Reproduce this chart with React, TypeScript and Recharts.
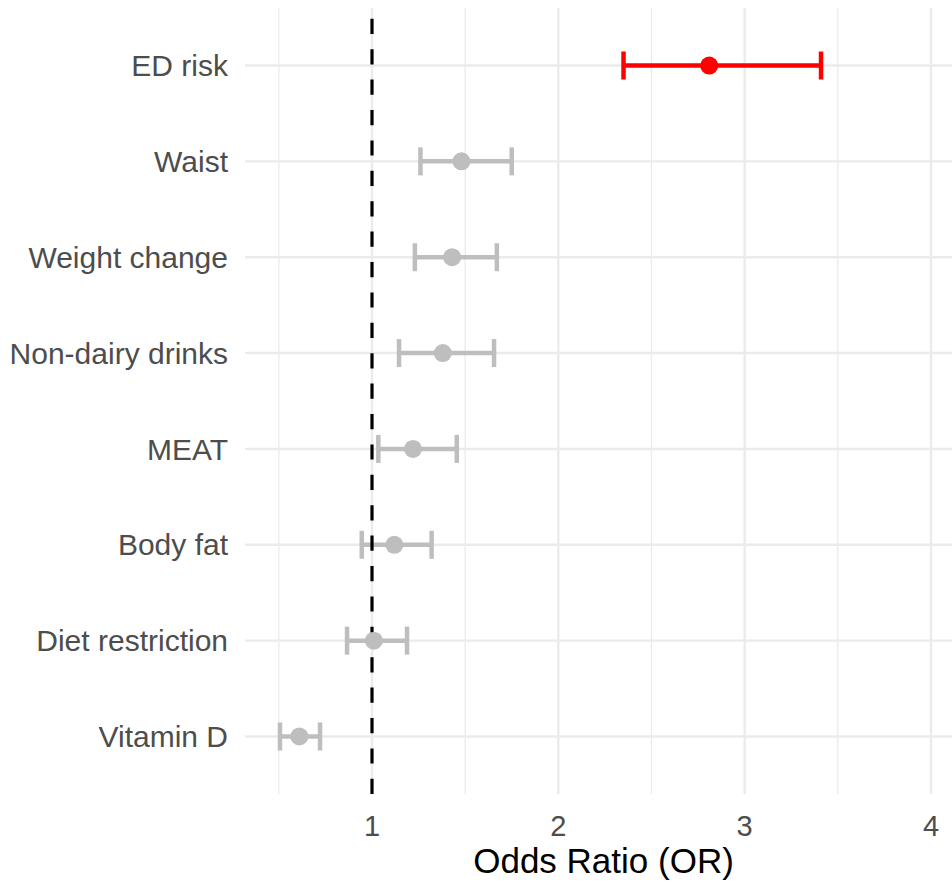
import React from 'react';
import { ScatterChart, Scatter, XAxis, YAxis, ErrorBar, ReferenceLine } from 'recharts';

const labels = ['ED risk', 'Waist', 'Weight change', 'Non-dairy drinks', 'MEAT', 'Body fat', 'Diet restriction', 'Vitamin D'];
const oddsRatio = [2.81, 1.48, 1.43, 1.38, 1.22, 1.12, 1.01, 0.61];
const lower = [2.35, 1.26, 1.23, 1.145, 1.034, 0.945, 0.866, 0.506];
const upper = [3.41, 1.75, 1.67, 1.655, 1.455, 1.32, 1.188, 0.721];
const highlighted = ['ED risk'];
const xTicks = [1, 2, 3, 4];
const minorTicks = [0.5, 1.5, 2.5, 3.5];
const refValue = 1;

const n = labels.length;
const rows = labels.map((label, i) => ({
  label,
  x: oddsRatio[i],
  y: n - 1 - i,
  err: [oddsRatio[i] - lower[i], upper[i] - oddsRatio[i]],
}));
const redRows = rows.filter((r) => highlighted.includes(r.label));
const greyRows = rows.filter((r) => !highlighted.includes(r.label));
const yTicks = rows.map((r) => r.y);
const labelFor = (v: number) => labels[n - 1 - v] ?? '';

const FONT = 'Liberation Sans, Arial, sans-serif';
const GRID = '#EBEBEB';

const dot = (color: string) => (props: any) => (
  <circle cx={props.cx} cy={props.cy} r={9} fill={color} />
);

export default function App() {
  return (
    <div style={{ position: 'absolute', left: 0, top: 0, background: '#fff' }}>
      <ScatterChart width={952} height={881} margin={{ top: 8, right: 0, bottom: 0, left: 0 }}>
        {minorTicks.map((v) => (
          <ReferenceLine key={'mn' + v} x={v} stroke={GRID} strokeWidth={1.3} />
        ))}
        {xTicks.map((v) => (
          <ReferenceLine key={'mx' + v} x={v} stroke={GRID} strokeWidth={2.4} />
        ))}
        {yTicks.map((v) => (
          <ReferenceLine key={'my' + v} y={v} stroke={GRID} strokeWidth={2.4} />
        ))}
        <XAxis
          type="number"
          dataKey="x"
          domain={[0.3183, 4.113]}
          ticks={xTicks}
          allowDataOverflow
          axisLine={false}
          tickLine={false}
          tickSize={0}
          tickMargin={21}
          height={87}
          tick={{ fontSize: 29, fill: '#4D4D4D', fontFamily: FONT }}
          label={{ value: 'Odds Ratio (OR)', position: 'insideBottom', offset: 8, dx: 5, fontSize: 35, fill: '#000', fontFamily: FONT }}
        />
        <YAxis
          type="number"
          dataKey="y"
          domain={[-0.6, n - 0.4]}
          ticks={yTicks}
          interval={0}
          tickFormatter={labelFor}
          axisLine={false}
          tickLine={false}
          tickSize={0}
          tickMargin={17}
          width={245}
          tick={{ fontSize: 30, fill: '#4D4D4D', fontFamily: FONT }}
        />
        <Scatter data={greyRows} isAnimationActive={false} shape={dot('#BEBEBE')}>
          <ErrorBar dataKey="err" direction="x" width={14} strokeWidth={4.5} stroke="#BEBEBE" />
        </Scatter>
        <Scatter data={redRows} isAnimationActive={false} shape={dot('#FF0000')}>
          <ErrorBar dataKey="err" direction="x" width={14} strokeWidth={4.5} stroke="#FF0000" />
        </Scatter>
        <ReferenceLine
          segment={[{ x: refValue, y: -0.6 }, { x: refValue, y: n - 0.4 }]}
          stroke="#000"
          strokeWidth={3.2}
          strokeDasharray="15.2 15.2"
        />
      </ScatterChart>
    </div>
  );
}
